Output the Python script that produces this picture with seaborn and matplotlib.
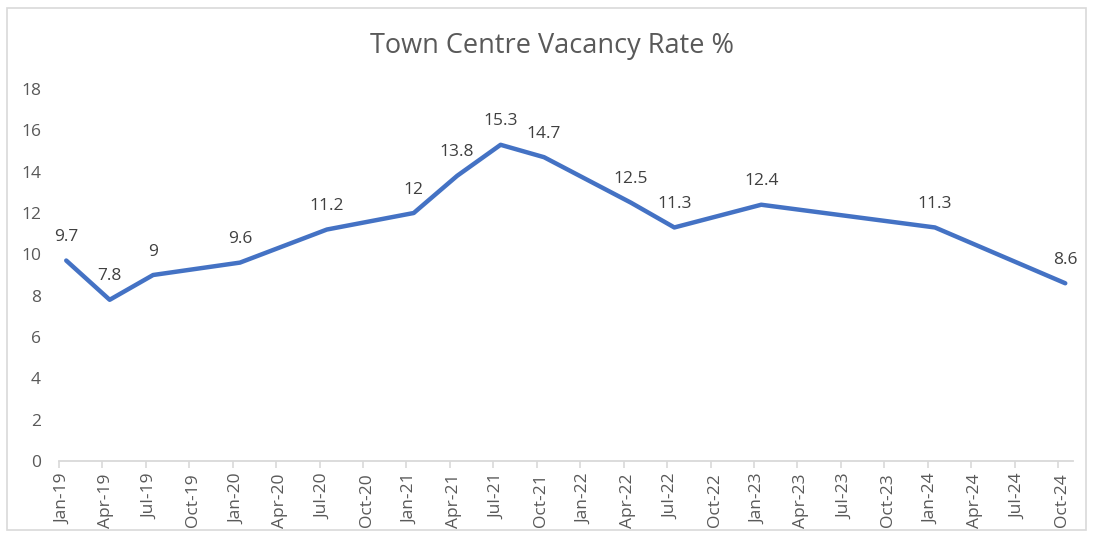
import pandas as pd
import matplotlib
matplotlib.use('Agg')
import matplotlib.pyplot as plt
from matplotlib.patches import Rectangle
from matplotlib.transforms import ScaledTranslation
import seaborn as sns

# survey dates that carry a value (the axis itself runs quarterly)
dates = ['Jan-19', 'Apr-19', 'Jul-19', 'Jan-20', 'Jul-20', 'Jan-21', 'Apr-21',
         'Jul-21', 'Oct-21', 'Apr-22', 'Jul-22', 'Jan-23', 'Jan-24', 'Oct-24']
rates = [9.7, 7.8, 9, 9.6, 11.2, 12, 13.8, 15.3, 14.7, 12.5, 11.3, 12.4, 11.3, 8.6]

tick_labels = ['Jan-19', 'Apr-19', 'Jul-19', 'Oct-19', 'Jan-20', 'Apr-20', 'Jul-20', 'Oct-20',
               'Jan-21', 'Apr-21', 'Jul-21', 'Oct-21', 'Jan-22', 'Apr-22', 'Jul-22', 'Oct-22',
               'Jan-23', 'Apr-23', 'Jul-23', 'Oct-23', 'Jan-24', 'Apr-24', 'Jul-24', 'Oct-24']
y_ticks = [0, 2, 4, 6, 8, 10, 12, 14, 16, 18]

# month slots since Jan-19, points sit in the middle of their month (Excel date axis)
d = pd.to_datetime(dates, format='%b-%y')
df = pd.DataFrame({'month': (d.year - 2019) * 12 + d.month - 1 + 0.5, 'rate': rates})
t = pd.to_datetime(tick_labels, format='%b-%y')
tick_pos = (t.year - 2019) * 12 + t.month - 1

sns.set_theme(style='white')
plt.rcParams['font.family'] = ['Open Sans', 'DejaVu Sans']

W, H = 1095, 538
fig = plt.figure(figsize=(W / 100, H / 100), dpi=100)
ax = fig.add_axes([59 / W, 77 / H, (1072.5 - 59) / W, (461 - 89) / H])

sns.lineplot(data=df, x='month', y='rate', ax=ax, color='#4472C4', linewidth=3.2,
             solid_capstyle='round', solid_joinstyle='round')

ax.set_xlim(0, tick_pos[-1] + 1)
ax.set_ylim(0, 18)
ax.set_xticks(tick_pos)
ax.set_xticklabels(tick_labels, rotation=90, fontsize=12.5, color='#595959')
ax.set_yticks(y_ticks)
ax.set_yticklabels([str(v) for v in y_ticks], fontsize=12.5, color='#595959')
ax.set_xlabel('')
ax.set_ylabel('')
ax.tick_params(axis='x', length=5, width=1.2, color='#d9d9d9', pad=4, bottom=True)
ax.tick_params(axis='y', length=0, pad=13)
for lab in ax.get_xticklabels():
    lab.set_transform(lab.get_transform() + ScaledTranslation(4 / 100, 0, fig.dpi_scale_trans))

sns.despine(ax=ax, left=True)
ax.spines['bottom'].set_color('#d9d9d9')
ax.spines['bottom'].set_linewidth(1.3)
ax.grid(False)

# data labels above points
for m, v in zip(df['month'], df['rate']):
    ax.annotate(f'{v:g}', (m, v), xytext=(0, 14), textcoords='offset points',
                ha='center', va='baseline', fontsize=12.5, color='#404040')

fig.text(552 / W, 1 - 46 / H, 'Town Centre Vacancy Rate %', ha='center', va='center',
         fontsize=19.5, color='#595959')

# chart area border
fig.patches.append(Rectangle((7 / W, 8 / H), (1086 - 7) / W, (530 - 8) / H,
                             transform=fig.transFigure, fill=False,
                             edgecolor='#d9d9d9', linewidth=1.2))

fig.savefig('out.png', dpi=100)
